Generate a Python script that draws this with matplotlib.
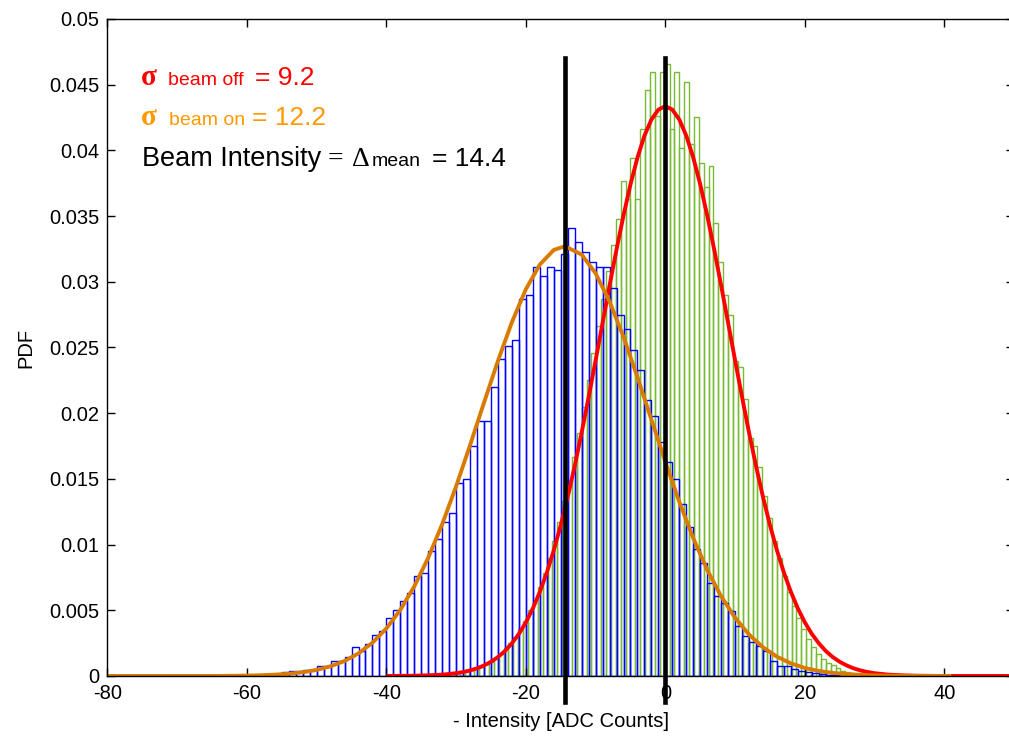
import matplotlib
matplotlib.use("Agg")
import matplotlib.pyplot as plt
import numpy as np

plt.rcParams['font.family'] = ['Liberation Sans', 'DejaVu Sans']
plt.rcParams['axes.unicode_minus'] = False

# beam on histogram (blue), bins of width 1 starting at -55
blue_start = -55
blue_width = 1.0
blue_pdf = [0.00028, 0.00038, 0.0004, 0.00048, 0.00048, 0.00078, 0.00078, 0.00117, 0.00117, 0.00147,
            0.00223, 0.0019, 0.00243, 0.0031, 0.00345, 0.0044, 0.005, 0.0057, 0.0063, 0.0076,
            0.0078, 0.0095, 0.0104, 0.0117, 0.0124, 0.0147, 0.0150, 0.0175, 0.0194, 0.0194,
            0.0220, 0.0241, 0.0251, 0.0256, 0.0287, 0.0290, 0.0311, 0.0304, 0.0311, 0.0309,
            0.0321, 0.0341, 0.0330, 0.0323, 0.0315, 0.0311, 0.0311, 0.0295, 0.0275, 0.0264,
            0.0248, 0.0233, 0.0210, 0.0198, 0.0178, 0.0163, 0.0150, 0.0131, 0.0113, 0.00967,
            0.00862, 0.00705, 0.00609, 0.00558, 0.00495, 0.0038, 0.00304, 0.00261, 0.0023, 0.00193,
            0.00117, 0.00078, 0.00078, 0.0005, 0.00038, 0.00028, 0.0002, 0.00015, 0.0001, 0.00005,
            0.00003]

# beam off histogram (green), bins of width 0.7 starting at -40
green_start = -40
green_width = 0.7
green_pdf = [0, 0, 0, 0, 0, 0, 0.00003, 0, 0.00005, 0.00005,
             0.0001, 0.0001, 0.00012, 0.00018, 0.00022, 0.0003, 0.00036, 0.00048, 0.0006, 0.0007,
             0.0009, 0.0011, 0.0014, 0.0017, 0.0021, 0.0025, 0.003, 0.0036, 0.0042, 0.005,
             0.0058, 0.0068, 0.0078, 0.009, 0.0103, 0.0117, 0.0133, 0.0149, 0.0167, 0.0185,
             0.0205, 0.0225, 0.0246, 0.0266, 0.0287, 0.0308, 0.0328, 0.0348, 0.0377, 0.0363,
             0.0394, 0.0363, 0.0416, 0.0446, 0.046, 0.0426, 0.046, 0.0466, 0.0416, 0.046,
             0.0402, 0.0452, 0.0405, 0.0425, 0.039, 0.0372, 0.0388, 0.0345, 0.0315, 0.029,
             0.0275, 0.024, 0.0235, 0.0211, 0.0181, 0.0175, 0.0159, 0.0137, 0.012, 0.0103,
             0.009, 0.0076, 0.0064, 0.0053, 0.0044, 0.0036, 0.0028, 0.0022, 0.0017, 0.0013,
             0.001, 0.0008, 0.0006, 0.0004, 0.0003, 0.0002, 0.00015, 0.0001, 0.00005, 0.00003]

# fitted curves
red_x = [-40, -36, -34, -32, -30, -29, -28, -27, -26, -25, -24, -23, -22, -21, -20, -19, -18, -17,
         -16, -15, -14, -13, -12, -11, -10, -9, -8, -7, -6, -5, -4, -3, -2, -1, 0,
         1, 2, 3, 4, 5, 6, 7, 8, 9, 10, 11, 12, 13, 14, 15, 16, 17, 18, 19, 20,
         21, 22, 23, 24, 25, 26, 27, 28, 29, 30, 32, 34, 36, 40, 50]
red_y = [0, 0.00002, 0.00005, 0.0001, 0.00021, 0.0003, 0.00042, 0.00058, 0.0008, 0.00108, 0.00144,
         0.0019, 0.00249, 0.0032, 0.00408, 0.00514, 0.0064, 0.00786, 0.00956, 0.01148, 0.01362,
         0.01598, 0.01852, 0.02122, 0.02402, 0.02687, 0.02971, 0.03246, 0.03505, 0.03741, 0.03945,
         0.04111, 0.04234, 0.0431, 0.04336,
         0.0431, 0.04234, 0.04111, 0.03945, 0.03741, 0.03505, 0.03246, 0.02971, 0.02687, 0.02402,
         0.02122, 0.01852, 0.01598, 0.01362, 0.01148, 0.00956, 0.00786, 0.0064, 0.00514, 0.00408,
         0.0032, 0.00249, 0.0019, 0.00144, 0.00108, 0.0008, 0.00058, 0.00042, 0.0003, 0.00021,
         0.0001, 0.00005, 0.00002, 0, 0]
orange_x = [-80, -64, -60, -58, -56, -54, -52, -50, -48, -46, -44, -42, -40, -38, -36, -34, -32,
            -30, -28, -26, -24, -22, -20, -18, -16, -14.4, -12, -10, -8, -6, -4, -2, 0, 2, 4, 6,
            8, 10, 12, 14, 16, 18, 20, 22, 24, 26, 28, 30, 32, 36, 41]
orange_y = [0, 0.000002, 0.00003, 0.000055, 0.0001, 0.00017, 0.00028, 0.00046, 0.00074, 0.00114,
            0.00172, 0.00253, 0.00362, 0.00503, 0.00682, 0.009, 0.01155, 0.01444, 0.01757,
            0.02081, 0.02399, 0.02693, 0.02943, 0.03131, 0.03242, 0.0327, 0.03207, 0.03064,
            0.02849, 0.0258, 0.02274, 0.01951, 0.01629, 0.01325, 0.01049, 0.00808, 0.00606,
            0.00443, 0.00315, 0.00218, 0.00147, 0.00096, 0.00061, 0.00038, 0.00023, 0.00014,
            0.00008, 0.00004, 0.00002, 0, 0]

mean_lines = [-14.4, 0]

fig = plt.figure(figsize=(10.09, 7.37), dpi=100)
ax = fig.add_axes([0.1065, 0.0828, 0.8985, 0.8915])

gx = green_start + green_width * np.arange(len(green_pdf))
ax.bar(gx, green_pdf, width=green_width, align='edge', fill=False,
       edgecolor='#77bb33', linewidth=1.0)
bx = blue_start + blue_width * np.arange(len(blue_pdf))
ax.bar(bx, blue_pdf, width=blue_width, align='edge', fill=False,
       edgecolor='#0000ff', linewidth=1.0)

ax.plot(red_x, red_y, color='#ff0000', lw=2.8, solid_capstyle='butt')
ax.plot(orange_x, orange_y, color='#d97b00', lw=2.8, solid_capstyle='butt')

for m in mean_lines:
    ax.plot([m, m], [-0.002, 0.047], color='black', lw=3.3, clip_on=False)

ax.set_xlim(-80, 50)
ax.set_ylim(0, 0.05)
ax.set_xticks([-80, -60, -40, -20, 0, 20, 40])
ax.set_yticks(np.arange(0, 0.0501, 0.005))
ax.set_yticklabels(['0', '0.005', '0.01', '0.015', '0.02', '0.025', '0.03',
                    '0.035', '0.04', '0.045', '0.05'])
ax.tick_params(direction='in', top=True, right=True, length=6, width=1,
               labelsize=14.5, pad=6)
for s in ax.spines.values():
    s.set_linewidth(1.0)
ax.set_xlabel('- Intensity [ADC Counts]', fontsize=14.5, labelpad=6)
ax.set_ylabel('PDF', fontsize=14.5, labelpad=10)

W, H = 1009.0, 737.0
def put(x, y, s, **kw):
    fig.text(x / W, 1 - y / H, s, va='baseline', ha='left', **kw)

serif = ['Liberation Serif', 'DejaVu Serif']
put(141, 85, 'σ', color='#ff0000', fontsize=21, family=serif, fontweight='bold')
put(168, 85, 'beam off', color='#ff0000', fontsize=14)
put(255, 85, '= 9.2', color='#ff0000', fontsize=19)
put(141, 125, 'σ', color='#ff9900', fontsize=21, family=serif, fontweight='bold')
put(169, 125, 'beam on', color='#ff9900', fontsize=14)
put(252, 125, '= 12.2', color='#ff9900', fontsize=19)
put(142, 166, 'Beam Intensity', color='black', fontsize=19.5)
put(328, 166, '=', color='black', fontsize=20, family=serif)
put(352, 166, 'Δ', color='black', fontsize=20, family=serif)
put(372, 166, 'mean', color='black', fontsize=14)
put(432, 166, '= 14.4', color='black', fontsize=19)

fig.savefig('out.png', dpi=100)
